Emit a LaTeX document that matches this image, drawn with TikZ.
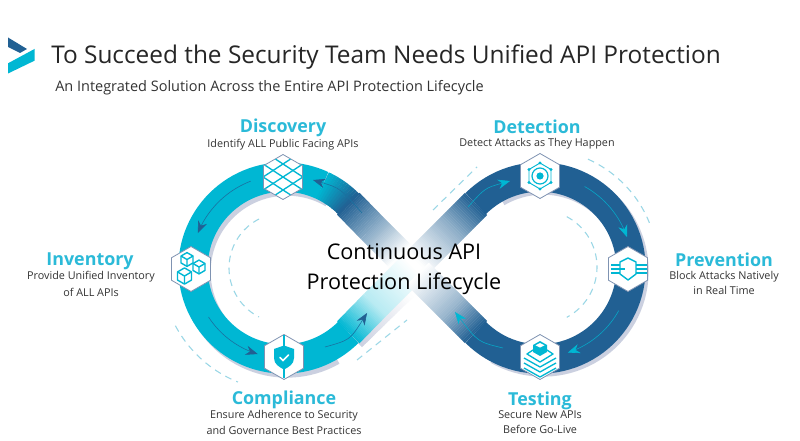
\documentclass[tikz,border=0pt]{standalone}
\usepackage{fontspec}
\setmainfont{Open Sans}
\usetikzlibrary{shapes.geometric,arrows.meta}
\definecolor{cy}{HTML}{00B7D3}
\definecolor{dk}{HTML}{216093}
\definecolor{sh}{HTML}{CBD0E0}
\definecolor{tl}{HTML}{2BBAD8}
\definecolor{ds}{HTML}{9AD7E6}
\definecolor{hb}{HTML}{7F93B2}
\definecolor{gy}{HTML}{333333}
\newcommand{\fs}[1]{\fontsize{#1}{#1}\selectfont}
% straight gradient segment
\newcommand{\gseg}[6]{%
 \foreach \i in {0,...,29}{%
  \pgfmathsetmacro{\pa}{\i/30}\pgfmathsetmacro{\pb}{(\i+1.25)/30}\pgfmathsetmacro{\pc}{100*(\i+.5)/30}%
  \draw[diagline,draw=#6!\pc!#5] ({#1+(#3-#1)*\pa},{#2+(#4-#2)*\pa}) -- ({#1+(#3-#1)*\pb},{#2+(#4-#2)*\pb});
 }}
% arc gradient segment
\newcommand{\garc}[6]{%
 \foreach \i in {0,...,11}{%
  \pgfmathsetmacro{\pa}{#3+(#4-#3)*\i/12}\pgfmathsetmacro{\pb}{#3+(#4-#3)*(\i+1.2)/12}\pgfmathsetmacro{\pc}{100*(\i+.5)/12}%
  \draw[bandline,draw=#6!\pc!#5] ({#1+91*cos(\pa)},{#2+91*sin(\pa)}) -- ({#1+91*cos(\pb)},{#2+91*sin(\pb)});
 }}
\tikzset{
 bandline/.style={line width=22pt,line cap=butt},
 diagline/.style={line width=23.5pt,line cap=butt},
 shadowline/.style={line width=22pt,draw=sh},
 dashline/.style={draw=ds,line width=.8pt,dash pattern=on 5pt off 4pt},
 arrdk/.style={draw=dk!80!cy,line width=.45pt,-{Stealth[length=9pt,width=7pt,color=dk]}},
 arrcy/.style={draw=cy!80!dk,line width=.45pt,-{Stealth[length=9pt,width=7pt,color=cy]}},
 hexnode/.style={regular polygon,regular polygon sides=6,regular polygon rotate=30,minimum size=33.75pt,inner sep=0pt,fill=white,draw=hb,line width=.6pt},
 icon/.style={draw=cy,line width=1pt,line join=round},
 head/.style={text=tl,font=\bfseries\fs{13.4},inner sep=0pt},
 sub/.style={text=gy,font=\fs{8.1},inner sep=0pt,align=center},
 mid/.style={text=black,font=\fs{16.2},inner sep=0pt,align=center},
}
\begin{document}
\begin{tikzpicture}[x=.75pt,y=-.75pt]
\useasboundingbox (0,0) rectangle (800,441);
\fill[white] (0,0) rectangle (800,441);
% logo
\fill[dk] (8,37.5) -- (27,49) -- (20,53) -- (8,47) -- cycle;
\fill[cy] (8,63.3) -- (34.5,49) -- (34.5,60.7) -- (8,73.5) -- cycle;
% title
\node[inner sep=0pt,anchor=west,text=black!85,font=\fs{18.3}] (title) at (51,57) {To Succeed the Security Team Needs Unified API Protection};
\node[inner sep=0pt,anchor=west,text=gy,font=\fs{10.87}] (subtitle) at (55,88) {An Integrated Solution Across the Entire API Protection Lifecycle};
% shadows
\draw[shadowline] plot[domain=-60:-300,samples=70] ({287+91*cos(\x)},{272+91*sin(\x)});
\draw[shadowline] plot[domain=-120:120,samples=70] ({543+91*cos(\x)},{271+91*sin(\x)});
\gseg{351}{336}{402}{286}{sh}{white}
% bands
\draw[bandline,draw=cy] plot[domain=-65:-315,samples=80] ({284+91*cos(\x)},{268+91*sin(\x)});
\draw[bandline,draw=dk] plot[domain=-135:135,samples=80] ({540+91*cos(\x)},{268+91*sin(\x)});
\garc{284}{268}{-65}{-45}{cy}{dk}
\gseg{348.3}{203.7}{372}{228}{dk}{dk!55!white}
\gseg{372}{228}{400}{256}{dk!55!white}{white}
\gseg{476}{204}{452}{228}{dk}{dk!50!white}
\gseg{452}{228}{418}{262}{dk!50!white}{white}
\gseg{348.3}{332.3}{375}{305}{cy}{cy!28!white}
\gseg{375}{305}{412}{268}{cy!28!white}{cy!3!white}
\gseg{476}{332}{452}{308}{dk}{dk!45!white}
\gseg{452}{308}{418}{274}{dk!45!white}{white}
% dashes
\draw[dashline] plot[domain=-117:-243,samples=40] ({284+55*cos(\x)},{268+55*sin(\x)});
\draw[dashline] plot[domain=152:112,samples=30] ({284+123*cos(\x)},{268+123*sin(\x)});
\coordinate (da) at (357,360); \coordinate (db) at (407,320);
\draw[dashline] (da) -- (db);
\draw[dashline] plot[domain=-62:62,samples=40] ({540+57*cos(\x)},{267+57*sin(\x)});
\draw[dashline] plot[domain=-66:-22,samples=30] ({540+118*cos(\x)},{267+118*sin(\x)});
\coordinate (dc) at (433,210); \coordinate (dd) at (477,167);
\draw[dashline] (dc) -- (dd);
% arrows
\draw[arrdk] plot[domain=-111:-158,samples=20] ({284+93*cos(\x)},{268+93*sin(\x)});
\draw[arrdk] plot[domain=147:107,samples=20] ({284+90*cos(\x)},{268+90*sin(\x)});
\coordinate (a1) at (325,347); \coordinate (a2) at (367,313);
\draw[arrdk] (a1) .. controls (350,340) .. (a2);
\coordinate (a3) at (362,213); \coordinate (a4) at (313,180);
\draw[arrdk] (a3) .. controls (340,188) .. (a4);
\coordinate (a5) at (468,207); \coordinate (a6) at (510,181);
\draw[arrcy] (a5) .. controls (485,188) .. (a6);
\draw[arrcy] plot[domain=-61:-19,samples=20] ({540+92*cos(\x)},{267+92*sin(\x)});
\draw[arrcy] plot[domain=29:72,samples=20] ({540+90*cos(\x)},{267+90*sin(\x)});
\coordinate (a7) at (503,348); \coordinate (a8) at (455,312);
\draw[arrcy] (a7) .. controls (478,342) .. (a8);
% hexagons
\node[hexnode] (hdisc) at (283,177) {};
\node[hexnode] (hinv) at (191,269) {};
\node[hexnode] (hcomp) at (284,357) {};
\node[hexnode] (hdet) at (540,176) {};
\node[hexnode] (hprev) at (628,269) {};
\node[hexnode] (htest) at (540,357) {};
% discovery icon
\begin{scope}[shift={(283,177)}]
 \clip (0,-22) -- (19,-11) -- (19,11) -- (0,22) -- (-19,11) -- (-19,-11) -- cycle;
 \foreach \k in {-39,-26,...,39}{
  \draw[icon] (-26,\k-17) -- (26,\k+17);
  \draw[icon] (-26,\k+17) -- (26,\k-17);
 }
\end{scope}
% inventory icon: cubes
\foreach \cx/\cy/\s in {187/259.5/1.15,199/267/1.15,184.5/276/1.35}{
 \begin{scope}[shift={(\cx,\cy)},scale=\s]
  \draw[icon,line width=1.05pt] (0,-6) -- (5.2,-3) -- (5.2,3) -- (0,6) -- (-5.2,3) -- (-5.2,-3) -- cycle;
  \draw[icon,line width=1.05pt] (-5.2,-3) -- (0,0) -- (5.2,-3) (0,0) -- (0,6);
 \end{scope}
}
% compliance icon
\begin{scope}[shift={(284,357)}]
 \draw[icon] (0,-21.5) -- (0,21.5);
 \fill[cy] (0,-11.5) -- (10,-8) -- (10,1) .. controls (10,7) and (5,10) .. (0,12.5) .. controls (-5,10) and (-10,7) .. (-10,1) -- (-10,-8) -- cycle;
 \draw[white,line width=1.1pt,line cap=round] (-4,.5) -- (-1,3.5) -- (4.5,-2);
\end{scope}
% detection icon
\begin{scope}[shift={(540,176)}]
 \draw[icon,line width=.7pt] (0,-13) -- (11,-6.5) -- (11,6.5) -- (0,13) -- (-11,6.5) -- (-11,-6.5) -- cycle;
 \foreach \dx/\dy in {0/-13,11/-6.5,11/6.5,0/13,-11/6.5,-11/-6.5}{\fill[cy] (\dx,\dy) circle (1.7);}
 \draw[icon,line width=.9pt] (0,0) circle (8);
 \fill[cy] (0,0) circle (3.6);
\end{scope}
% prevention icon
\begin{scope}[shift={(628,269)}]
 \draw[icon,line width=1.05pt] (0,-11) -- (8,-7) -- (8,5) -- (0,11) -- (-8,5) -- (-8,-7) -- cycle;
 \foreach \yy in {-4,0,4}{\draw[icon,line width=.95pt] (8,\yy) -- (19,\yy);}
 \foreach \yy in {-4,4}{\draw[icon,line width=.95pt] (-17,\yy) -- (-8,\yy);}
 \draw[icon,line width=.95pt] (-17,0) -- (-3,0);
\end{scope}
% testing icon
\begin{scope}[shift={(540,357)}]
 \fill[cy] (0,-16) -- (7,-12) -- (7,-5) -- (0,-1) -- (-7,-5) -- (-7,-12) -- cycle;
 \fill[white] (0,-14) -- (4.5,-11.7) -- (0,-9.4) -- (-4.5,-11.7) -- cycle;
 \draw[icon] (-7,-7) -- (-13,-3) -- (0,5) -- (13,-3) -- (7,-7);
 \foreach \yy in {0,5,10}{\draw[icon] (-16,\yy+1) -- (0,\yy+10) -- (16,\yy+1);}
\end{scope}
% labels
\node[head] (ldisc) at (283,128) {Discovery};
\node[sub] (tdisc) at (283,145) {Identify ALL Public Facing APIs};
\node[head] (ldet) at (537,127) {Detection};
\node[sub] (tdet) at (537,144) {Detect Attacks as They Happen};
\node[head] (linv) at (90,261) {Inventory};
\node[sub,anchor=north] (tinv) at (91,271) {Provide Unified Inventory\\[3.4pt]of ALL APIs};
\node[head] (lprev) at (724,260) {Prevention};
\node[sub,anchor=north] (tprev) at (724,271) {Block Attacks Natively\\[3.4pt]in Real Time};
\node[head] (lcomp) at (284,400) {Compliance};
\node[sub,anchor=north] (tcomp) at (284,410.5) {Ensure Adherence to Security\\[3.4pt]and Governance Best Practices};
\node[head] (ltest) at (540,401) {Testing};
\node[sub,anchor=north] (ttest) at (540,410.5) {Secure New APIs\\[3.4pt]Before Go-Live};
\node[mid] (center) at (404,269) {Continuous API\\[6pt]Protection Lifecycle};
\end{tikzpicture}
\end{document}
